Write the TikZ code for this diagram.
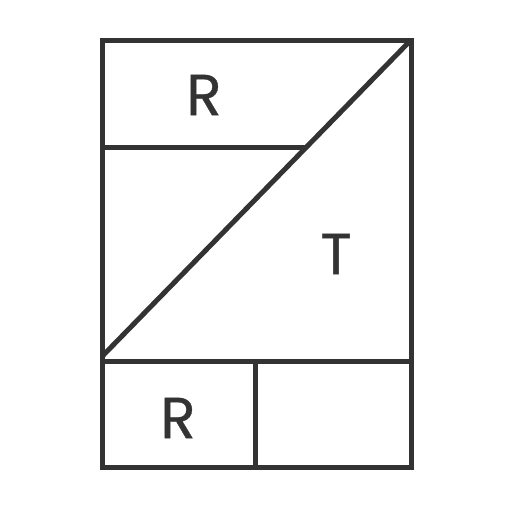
\documentclass[tikz,border=0pt]{standalone}
\usepackage{fontspec}
\setmainfont[FakeBold=0.6]{Poppins}
\begin{document}
\begin{tikzpicture}[x=1pt,y=-1pt,
  frame/.style={draw=black!80,line width=5pt,line cap=rect,line join=miter},
  lbl/.style={inner sep=0pt,text=black!80,font=\fontsize{58}{58}\selectfont}]
\useasboundingbox (0,0) rectangle (512,512);
\coordinate (tl) at (102.5,40);
\coordinate (tr) at (411,40);
\coordinate (bl) at (102.5,467);
\coordinate (br) at (411,467);
\draw[frame] (tl) rectangle (br);
\draw[frame] (102.5,361.5) -- (411,361.5);
\draw[frame] (255.7,361.5) -- (255.7,467);
\draw[frame,line cap=butt] (tr) -- (102.5,356);
\draw[frame,line cap=butt] (102.5,147.5) -- (305,147.5);
\node[lbl] (r1) at (204,95) {R};
\node[lbl] (t) at (336,254) {T};
\node[lbl] (r2) at (178,418) {R};
\end{tikzpicture}
\end{document}
